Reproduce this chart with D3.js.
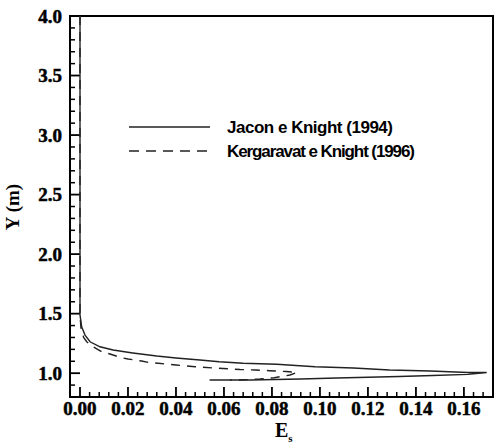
<!DOCTYPE html>
<html><head><meta charset="utf-8">
<script src="https://cdn.jsdelivr.net/npm/d3@7"></script>
<style>html,body{margin:0;padding:0;background:#fff;}svg{display:block;}</style>
</head><body>
<svg id="chart" width="496" height="444"></svg>
<script>
// Jacon e Knight (1994) - solid
const jaconX = [0, 0, 0.0007, 0.0021, 0.0042, 0.0083, 0.0138, 0.022, 0.032, 0.040, 0.050, 0.058, 0.068, 0.082, 0.098, 0.114, 0.129, 0.146, 0.1617, 0.1695,
                0.1617, 0.147, 0.133, 0.107, 0.092, 0.071, 0.054];
const jaconY = [4.0, 1.49, 1.39, 1.32, 1.264, 1.222, 1.195, 1.17, 1.144, 1.128, 1.111, 1.096, 1.083, 1.075, 1.054, 1.044, 1.027, 1.018, 1.006, 1.006,
                0.99, 0.98, 0.972, 0.96, 0.951, 0.943, 0.943];
// Kergaravat e Knight (1996) - dashed
const kergX = [0, 0, 0.0004, 0.0015, 0.0028, 0.0055, 0.009, 0.0125, 0.0167, 0.020, 0.0257, 0.0285, 0.0326, 0.040, 0.048, 0.0554, 0.0596, 0.0667, 0.073, 0.079, 0.086, 0.0904,
               0.0875, 0.081, 0.075, 0.0667, 0.0625];
const kergY = [4.0, 1.49, 1.38, 1.30, 1.264, 1.222, 1.18, 1.161, 1.133, 1.119, 1.102, 1.091, 1.083, 1.069, 1.054, 1.044, 1.039, 1.031, 1.027, 1.021, 1.014, 1.006,
               0.985, 0.962, 0.951, 0.943, 0.943];
const xMajor = [0, 0.02, 0.04, 0.06, 0.08, 0.10, 0.12, 0.14, 0.16];
const yMajor = [1.0, 1.5, 2.0, 2.5, 3.0, 3.5, 4.0];
const legendLabels = ["Jacon e Knight (1994)", "Kergaravat e Knight (1996)"];

const svg = d3.select("#chart");
const L = 70, R = 493, T = 16, B = 397;
const x = d3.scaleLinear().domain([-0.004167, 0.17212]).range([L, R]);
const y = d3.scaleLinear().domain([0.8, 4.0]).range([B, T]);

const xMinor = d3.range(0, 171).map(i => i * 0.004).filter(v => v <= 0.1685 && !xMajor.some(m => Math.abs(m - v) < 1e-9));
const yMinor = d3.range(9, 40).map(i => i / 10).filter(v => !yMajor.some(m => Math.abs(m - v) < 1e-9));

const g = svg.append("g");
// ticks (inward)
g.selectAll(".xmin").data(xMinor).enter().append("line")
  .attr("x1", d => x(d)).attr("x2", d => x(d)).attr("y1", B).attr("y2", B - 5)
  .attr("stroke", "#000").attr("stroke-width", 1.5);
g.selectAll(".xmaj").data(xMajor).enter().append("line")
  .attr("x1", d => x(d)).attr("x2", d => x(d)).attr("y1", B).attr("y2", B - 10)
  .attr("stroke", "#000").attr("stroke-width", 1.8);
g.selectAll(".ymin").data(yMinor).enter().append("line")
  .attr("y1", d => y(d)).attr("y2", d => y(d)).attr("x1", L).attr("x2", L + 5)
  .attr("stroke", "#000").attr("stroke-width", 1.5);
g.selectAll(".ymaj").data(yMajor).enter().append("line")
  .attr("y1", d => y(d)).attr("y2", d => y(d)).attr("x1", L).attr("x2", L + 10)
  .attr("stroke", "#000").attr("stroke-width", 1.8);

// frame
svg.append("rect").attr("x", L).attr("y", T).attr("width", R - L).attr("height", B - T)
  .attr("fill", "none").attr("stroke", "#000").attr("stroke-width", 2);

// tick labels
const tf = "'Liberation Serif','Times New Roman',serif";
g.selectAll(".xl").data(xMajor).enter().append("text")
  .attr("x", d => x(d)).attr("y", 415).attr("text-anchor", "middle")
  .attr("font-family", tf).attr("font-weight", "bold").attr("font-size", 19)
  .attr("stroke", "#000").attr("stroke-width", 0.5)
  .text(d => d.toFixed(2));
g.selectAll(".yl").data(yMajor).enter().append("text")
  .attr("x", 62).attr("y", d => y(d) + 6.5).attr("text-anchor", "end")
  .attr("font-family", tf).attr("font-weight", "bold").attr("font-size", 19)
  .attr("stroke", "#000").attr("stroke-width", 0.5)
  .text(d => d.toFixed(1));

// axis titles
svg.append("text").attr("transform", "translate(19,207) rotate(-90)")
  .attr("text-anchor", "middle").attr("font-family", tf).attr("font-weight", "bold").attr("font-size", 19)
  .text("Y (m)");
const et = svg.append("text").attr("x", 275).attr("y", 437)
  .attr("font-family", tf).attr("font-weight", "bold").attr("font-size", 20);
et.append("tspan").text("E");
et.append("tspan").attr("font-size", 11).attr("dy", 5).text("s");

// curves
const line = d3.line().x(d => x(d[0])).y(d => y(d[1]));
const jacon = jaconX.map((v, i) => [v, jaconY[i]]);
const kerg = kergX.map((v, i) => [v, kergY[i]]);
svg.append("path").attr("d", line(kerg)).attr("fill", "none")
  .attr("stroke", "#222").attr("stroke-width", 1.4).attr("stroke-dasharray", "9,7");
svg.append("path").attr("d", line(jacon)).attr("fill", "none")
  .attr("stroke", "#222").attr("stroke-width", 1.4);

// legend
const lf = "'Liberation Sans Narrow','Arial Narrow','Liberation Sans',Arial,sans-serif";
const legY = [127, 151];
const legW = [166, 188];
legendLabels.forEach((lab, i) => {
  svg.append("line").attr("x1", 129).attr("x2", 210).attr("y1", legY[i]).attr("y2", legY[i])
    .attr("stroke", "#222").attr("stroke-width", 1.5)
    .attr("stroke-dasharray", i === 1 ? "10,7" : null);
  svg.append("text").attr("x", 227).attr("y", legY[i] + 6)
    .attr("font-family", lf).attr("font-weight", "bold").attr("font-size", 17)
    .attr("textLength", legW[i]).attr("lengthAdjust", "spacing")
    .text(lab);
});
</script>
</body></html>
